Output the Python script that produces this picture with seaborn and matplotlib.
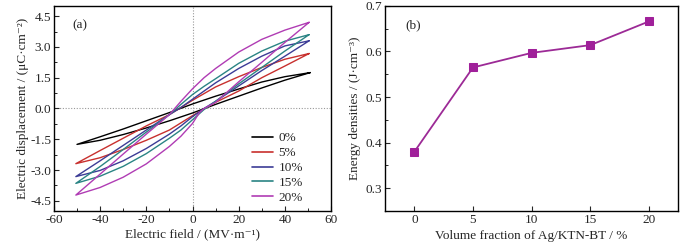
import numpy as np
import pandas as pd
import matplotlib
matplotlib.use("Agg")
import matplotlib.pyplot as plt
import seaborn as sns
from matplotlib.ticker import MultipleLocator

# ---------------- data ----------------
labels = ["0%", "5%", "10%", "15%", "20%"]
colors = ["#000000", "#c8302e", "#3c3c96", "#2a8484", "#b03cb4"]

# descending branch (E from +Emax to -Emax) and ascending branch (E from -Emax to +Emax)
E_desc_0 = [51, 40, 30, 20, 10, 0, -10, -20, -30, -40, -50]
D_desc_0 = [1.75, 1.55, 1.29, 0.95, 0.60, 0.22, -0.20, -0.60, -1.00, -1.38, -1.75]
E_asc_0 = [-50, -40, -30, -20, -10, 0, 10, 20, 30, 40, 51]
D_asc_0 = [-1.75, -1.55, -1.27, -0.95, -0.60, -0.22, 0.20, 0.60, 1.00, 1.38, 1.75]

E_desc_5 = [50.5, 40, 30, 20, 10, 0, -10, -20, -30, -40, -50.5]
D_desc_5 = [2.68, 2.40, 2.00, 1.55, 1.05, 0.40, -0.30, -0.85, -1.45, -2.05, -2.69]
E_asc_5 = [-50.5, -40, -30, -20, -10, 0, 10, 20, 30, 40, 50.5]
D_asc_5 = [-2.69, -2.40, -2.00, -1.55, -1.05, -0.35, 0.30, 0.85, 1.50, 2.07, 2.68]

E_desc_10 = [50.5, 40, 30, 20, 10, 5, 0, -5, -10, -20, -30, -40, -50.5]
D_desc_10 = [3.30, 3.05, 2.55, 1.95, 1.25, 0.85, 0.45, 0.05, -0.30, -1.05, -1.80, -2.55, -3.32]
E_asc_10 = [-50.5, -40, -30, -20, -10, -5, 0, 5, 10, 20, 30, 40, 50.5]
D_asc_10 = [-3.32, -3.02, -2.55, -1.95, -1.25, -0.85, -0.40, 0.00, 0.35, 1.10, 1.85, 2.55, 3.30]

E_desc_15 = [50.5, 40, 30, 20, 10, 5, 0, -5, -10, -20, -30, -40, -50.5]
D_desc_15 = [3.60, 3.28, 2.80, 2.20, 1.45, 1.08, 0.68, 0.20, -0.30, -1.15, -2.00, -2.83, -3.65]
E_asc_15 = [-50.5, -40, -30, -20, -10, -5, 0, 5, 10, 20, 30, 40, 50.5]
D_asc_15 = [-3.65, -3.30, -2.82, -2.20, -1.45, -1.05, -0.55, -0.05, 0.35, 1.20, 2.00, 2.80, 3.60]

E_desc_20 = [50.5, 40, 30, 20, 10, 5, 0, -5, -10, -20, -30, -40, -50.5]
D_desc_20 = [4.20, 3.82, 3.37, 2.75, 1.95, 1.50, 0.96, 0.35, -0.30, -1.25, -2.22, -3.20, -4.22]
E_asc_20 = [-50.5, -40, -30, -20, -10, -5, 0, 3, 5, 10, 20, 30, 40, 50.5]
D_asc_20 = [-4.22, -3.85, -3.35, -2.70, -1.85, -1.35, -0.73, -0.20, 0.00, 0.30, 1.30, 2.25, 3.22, 4.20]

fraction = [0, 5, 10, 15, 20]
energy = [0.380, 0.565, 0.597, 0.614, 0.666]

# ---------------- build table ----------------
loops = [
    (E_desc_0 + E_asc_0, D_desc_0 + D_asc_0),
    (E_desc_5 + E_asc_5, D_desc_5 + D_asc_5),
    (E_desc_10 + E_asc_10, D_desc_10 + D_asc_10),
    (E_desc_15 + E_asc_15, D_desc_15 + D_asc_15),
    (E_desc_20 + E_asc_20, D_desc_20 + D_asc_20),
]
rows = []
for lab, (es, ds) in zip(labels, loops):
    for i, (e, d) in enumerate(zip(es, ds)):
        rows.append({"E": e, "D": d, "series": lab, "order": i})
df = pd.DataFrame(rows)
df_b = pd.DataFrame({"fraction": fraction, "energy": energy})

# ---------------- style ----------------
sns.set_theme(style="ticks")
plt.rcParams["font.family"] = ["Liberation Serif", "DejaVu Serif"]
plt.rcParams["xtick.direction"] = "in"
plt.rcParams["ytick.direction"] = "in"
fs = 9.5

fig = plt.figure(figsize=(7.0, 2.46), dpi=100)
ax1 = fig.add_axes([0.077, 0.142, 0.396, 0.834])
ax2 = fig.add_axes([0.550, 0.142, 0.419, 0.834])

# ---- panel (a) ----
ax1.axhline(0, color="#999999", lw=0.8, ls=(0, (1, 1.5)), zorder=0)
ax1.axvline(0, color="#999999", lw=0.8, ls=(0, (1, 1.5)), zorder=0)
sns.lineplot(data=df, x="E", y="D", hue="series", hue_order=labels,
             palette=colors, sort=False, estimator=None, lw=1.0, ax=ax1)
ax1.set_xlim(-60, 60)
ax1.set_ylim(-5.0, 5.0)
ax1.set_xticks([-60, -40, -20, 0, 20, 40, 60])
ax1.xaxis.set_minor_locator(MultipleLocator(10))
ax1.yaxis.set_minor_locator(MultipleLocator(0.75))
ax1.set_yticks([-4.5, -3.0, -1.5, 0.0, 1.5, 3.0, 4.5])
ax1.set_yticklabels(["-4.5", "-3.0", "-1.5", "0.0", "1.5", "3.0", "4.5"])
ax1.set_xticklabels(["-60", "-40", "-20", "0", "20", "40", "60"])
ax1.set_xlabel("Electric field / (MV·m⁻¹)", fontsize=fs, labelpad=2)
ax1.set_ylabel("Electric displacement / (μC·cm⁻²)", fontsize=fs, labelpad=1)
ax1.text(0.065, 0.905, "(a)", transform=ax1.transAxes, fontsize=fs, va="center")
leg = ax1.legend(loc="lower left", frameon=False, fontsize=fs, handlelength=1.6,
                 labelspacing=0.2, handletextpad=0.4, borderaxespad=0.0,
                 borderpad=0.0, bbox_to_anchor=(0.715, 0.035))
for ln in leg.get_lines():
    ln.set_linewidth(1.2)

# ---- panel (b) ----
sns.lineplot(data=df_b, x="fraction", y="energy", color="#9c2a96", lw=1.3,
             marker="s", markersize=5.5, markeredgecolor="#a0209a",
             markerfacecolor="#a0209a", ax=ax2)
ax2.set_xlim(-2.5, 22.5)
ax2.set_ylim(0.25, 0.70)
ax2.set_xticks([0, 5, 10, 15, 20])
ax2.set_yticks([0.3, 0.4, 0.5, 0.6, 0.7])
ax2.set_yticklabels(["0.3", "0.4", "0.5", "0.6", "0.7"])
ax2.yaxis.set_minor_locator(MultipleLocator(0.05))
ax2.set_xlabel("Volume fraction of Ag/KTN-BT / %", fontsize=fs, labelpad=3)
ax2.set_ylabel("Energy densities / (J·cm⁻³)", fontsize=fs, labelpad=3)
ax2.text(0.068, 0.905, "(b)", transform=ax2.transAxes, fontsize=fs, va="center")

for ax in (ax1, ax2):
    for sp in ax.spines.values():
        sp.set_visible(True)
        sp.set_linewidth(1.0)
        sp.set_color("black")
    ax.tick_params(which="major", length=3.5, width=0.8, labelsize=fs, pad=2,
                   top=False, right=False)
    ax.tick_params(which="minor", length=2, width=0.7, top=False, right=False)

fig.savefig("out.png", dpi=100)
